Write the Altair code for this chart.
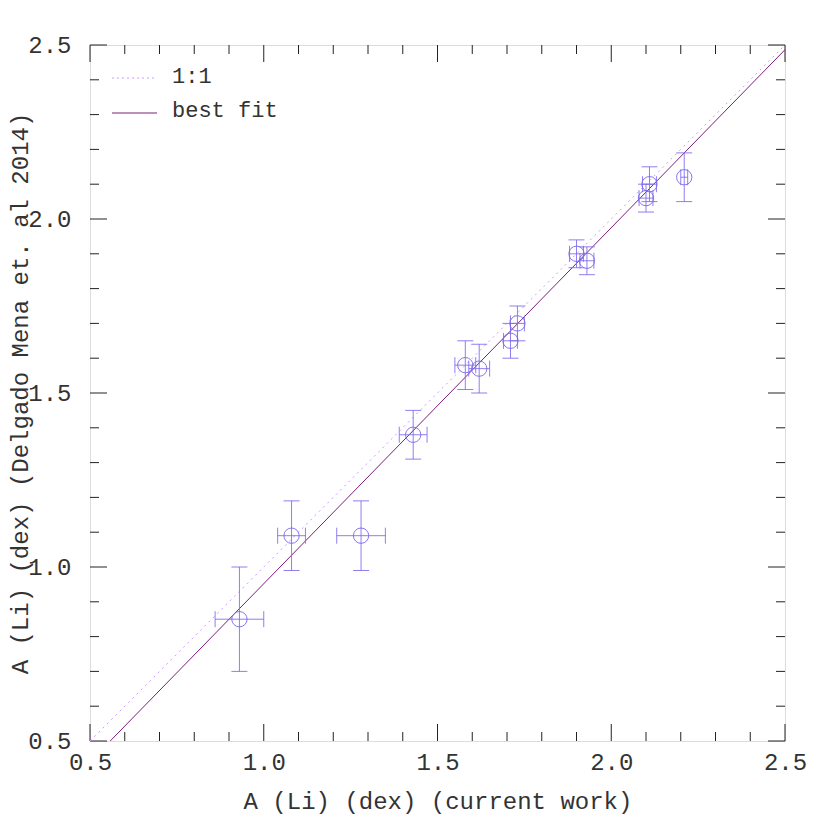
import altair as alt
import pandas as pd

# ---- data ----
x_cur = [0.93, 1.08, 1.28, 1.43, 1.58, 1.62, 1.71, 1.73, 1.90, 1.93, 2.10, 2.11, 2.21]
y_dm = [0.85, 1.09, 1.09, 1.38, 1.58, 1.57, 1.65, 1.70, 1.90, 1.88, 2.06, 2.10, 2.12]
x_err = [0.07, 0.04, 0.07, 0.04, 0.03, 0.03, 0.02, 0.02, 0.02, 0.02, 0.02, 0.02, 0.01]
y_err = [0.15, 0.10, 0.10, 0.07, 0.07, 0.07, 0.05, 0.05, 0.04, 0.04, 0.04, 0.05, 0.07]

fit_slope = 1.023
fit_intercept = -0.071
line_x = [0.5, 2.5]

major_ticks = [0.5, 1.0, 1.5, 2.0, 2.5]
minor_ticks = [0.6, 0.7, 0.8, 0.9, 1.1, 1.2, 1.3, 1.4, 1.6, 1.7, 1.8, 1.9,
               2.1, 2.2, 2.3, 2.4]
legend_labels = ["1:1", "best fit"]

# ---- geometry / style ----
W, H = 695, 696
PT = "#7b68ee"
FIT = "#7a1f7a"
ONE = "#c79bff"
FONT = "Liberation Mono"
TXT = "#333"

df = pd.DataFrame({"x": x_cur, "y": y_dm, "xe": x_err, "ye": y_err})
df["x_lo"] = df.x - df.xe
df["x_hi"] = df.x + df.xe
df["y_lo"] = df.y - df.ye
df["y_hi"] = df.y + df.ye

one = pd.DataFrame({"x": line_x, "y": line_x})
fit = pd.DataFrame({"x": line_x, "y": [fit_slope * v + fit_intercept for v in line_x]})
maj = pd.DataFrame({"v": major_ticks})
mnr = pd.DataFrame({"v": minor_ticks})

xs = alt.Scale(domain=[0.5, 2.5], nice=False, zero=False)
ys = alt.Scale(domain=[0.5, 2.5], nice=False, zero=False)

xaxis = alt.Axis(values=major_ticks, format=".1f", ticks=False, domain=False, grid=False,
                 labelFont=FONT, labelFontSize=24, labelColor=TXT, labelPadding=9,
                 title="A (Li) (dex) (current work)", titleFont=FONT, titleFontSize=24,
                 titleFontWeight="normal", titleColor=TXT, titlePadding=15,
                 labelFlush=False)
yaxis = alt.Axis(values=major_ticks, format=".1f", ticks=False, domain=False, grid=False,
                 labelFont=FONT, labelFontSize=24, labelColor=TXT, labelPadding=19,
                 title="A (Li) (dex) (Delgado Mena et. al 2014)", titleFont=FONT,
                 titleFontSize=24, titleFontWeight="normal", titleColor=TXT,
                 titleX=-70, titleBaseline="middle", labelFlush=False)

X = lambda f="x": alt.X(f"{f}:Q", scale=xs, axis=xaxis)
Y = lambda f="y": alt.Y(f"{f}:Q", scale=ys, axis=yaxis)

layers = []

# ticks (inside, all four sides)
for data, L in ((maj, 17), (mnr, 9)):
    base = alt.Chart(data).mark_rule(color="#222", strokeWidth=1)
    layers.append(base.encode(x=alt.X("v:Q", scale=xs, axis=xaxis), y=alt.value(H), y2=alt.value(H - L)))
    layers.append(base.encode(x=alt.X("v:Q", scale=xs, axis=xaxis), y=alt.value(0), y2=alt.value(L)))
    layers.append(base.encode(y=alt.Y("v:Q", scale=ys, axis=yaxis), x=alt.value(0), x2=alt.value(L)))
    layers.append(base.encode(y=alt.Y("v:Q", scale=ys, axis=yaxis), x=alt.value(W), x2=alt.value(W - L)))

# 1:1 line
layers.append(alt.Chart(one).mark_line(color=ONE, strokeWidth=1, strokeDash=[2, 4], clip=True)
              .encode(x=X(), y=Y()))
# best fit
layers.append(alt.Chart(fit).mark_line(color=FIT, strokeWidth=1, clip=True)
              .encode(x=X(), y=Y()))

# error bars
pts = alt.Chart(df)
layers.append(pts.mark_rule(color=PT, strokeWidth=1, opacity=0.85)
              .encode(x=X(), y=Y("y_lo"), y2="y_hi:Q"))
layers.append(pts.mark_rule(color=PT, strokeWidth=1, opacity=0.85)
              .encode(y=Y(), x=X("x_lo"), x2="x_hi:Q"))
for f in ("y_lo", "y_hi"):
    layers.append(pts.mark_rule(color=PT, strokeWidth=1, opacity=0.85, xOffset=-8, x2Offset=8)
                  .encode(x=X(), x2="x:Q", y=Y(f)))
for f in ("x_lo", "x_hi"):
    layers.append(pts.mark_rule(color=PT, strokeWidth=1, opacity=0.85, yOffset=-8, y2Offset=8)
                  .encode(y=Y(), y2="y:Q", x=X(f)))
layers.append(pts.mark_point(shape="circle", size=235, filled=False, color=PT, strokeWidth=1, opacity=0.9)
              .encode(x=X(), y=Y()))

# legend
leg = pd.DataFrame({"label": legend_labels})
layers.append(alt.Chart(leg.iloc[[0]]).mark_rule(color=ONE, strokeDash=[2, 3], strokeWidth=1)
              .encode(x=alt.value(22), x2=alt.value(67), y=alt.value(33)))
layers.append(alt.Chart(leg.iloc[[1]]).mark_rule(color=FIT, strokeWidth=1)
              .encode(x=alt.value(22), x2=alt.value(67), y=alt.value(68)))
layers.append(alt.Chart(leg.iloc[[0]]).mark_text(align="left", baseline="middle", font=FONT,
                                                 fontSize=22, color=TXT)
              .encode(text="label:N", x=alt.value(82), y=alt.value(31)))
layers.append(alt.Chart(leg.iloc[[1]]).mark_text(align="left", baseline="middle", font=FONT,
                                                 fontSize=22, color=TXT)
              .encode(text="label:N", x=alt.value(82), y=alt.value(65)))

chart = alt.layer(*layers).properties(
    width=W, height=H,
    autosize=alt.AutoSizeParams(type="none"),
    padding={"left": 82, "top": 37, "right": 37, "bottom": 80},
).configure_view(stroke="#222", strokeWidth=1).configure(background="white")

chart.save("out.html", embed_options={"renderer": "svg", "actions": False})
